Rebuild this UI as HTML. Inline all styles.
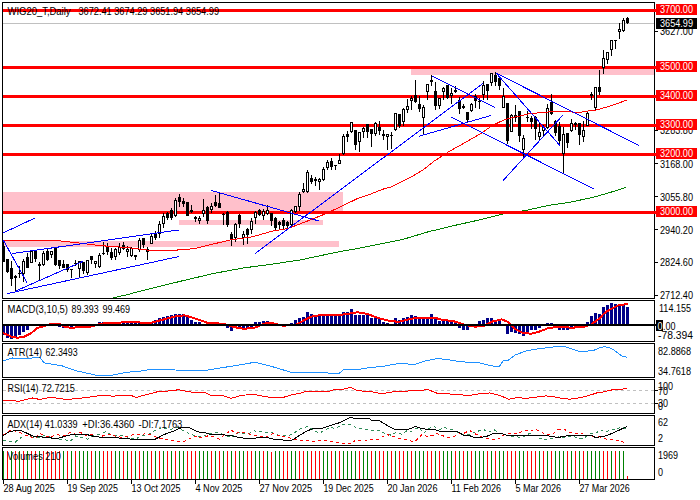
<!DOCTYPE html>
<html><head><meta charset="utf-8"><title>WIG20_T Daily</title>
<style>html,body{margin:0;padding:0;background:#fff;}body{width:700px;height:500px;overflow:hidden;font-family:"Liberation Sans",sans-serif;}</style>
</head><body>
<svg width="700" height="500" viewBox="0 0 700 500" style="display:block">
<rect x="0" y="0" width="700" height="500" fill="#fff"/>
<g shape-rendering="crispEdges" fill="#ffc0cb">
<rect x="3" y="192" width="340" height="20"/>
<rect x="3" y="241" width="336" height="6"/>
<rect x="179" y="220" width="144" height="5"/>
<rect x="411" y="68" width="243" height="7"/>
</g>
<rect x="3" y="23" width="652" height="1" fill="#c0c0c0" shape-rendering="crispEdges"/>
<polyline points="112.9,298.0 128.6,294.3 140.0,291.2 157.0,287.0 185.7,280.0 214.0,273.4 243.0,268.0 271.0,264.3 300.0,260.0 340.0,251.5 351.4,249.7 380.0,244.0 402.9,239.4 428.6,231.7 454.3,225.5 480.0,219.8 505.0,213.4 524.6,210.7 548.6,205.4 571.4,202.0 594.3,197.0 612.6,191.7 626.3,187.1" fill="none" stroke="#008000" stroke-width="1" shape-rendering="crispEdges"/>
<g shape-rendering="crispEdges" fill="#ff0000">
<rect x="3" y="9" width="654" height="3"/>
<rect x="3" y="66" width="654" height="3"/>
<rect x="3" y="95" width="654" height="3"/>
<rect x="3" y="124" width="654" height="3"/>
<rect x="3" y="153" width="654" height="3"/>
<rect x="3" y="211" width="654" height="3"/>
</g>
<g shape-rendering="crispEdges">
<rect x="3" y="241" width="1" height="21" fill="#000"/>
<rect x="2" y="246" width="3" height="16" fill="#000"/>
<rect x="7" y="259" width="1" height="14" fill="#000"/>
<rect x="6" y="259" width="3" height="13" fill="#000"/>
<rect x="11" y="261" width="1" height="25" fill="#000"/>
<rect x="10" y="268" width="3" height="11" fill="#000"/>
<rect x="15" y="275" width="1" height="16" fill="#000"/>
<rect x="14" y="276" width="3" height="2" fill="#000"/>
<rect x="19" y="266" width="1" height="12" fill="#000"/>
<rect x="18" y="273" width="3" height="1" fill="#000"/>
<rect x="23" y="259" width="1" height="23" fill="#000"/>
<rect x="22" y="261" width="3" height="13" fill="#000"/>
<rect x="23" y="262" width="1" height="11" fill="#fff"/>
<rect x="27" y="253" width="1" height="15" fill="#000"/>
<rect x="26" y="257" width="3" height="11" fill="#000"/>
<rect x="31" y="250" width="1" height="13" fill="#000"/>
<rect x="30" y="251" width="3" height="12" fill="#000"/>
<rect x="31" y="252" width="1" height="10" fill="#fff"/>
<rect x="35" y="250" width="1" height="12" fill="#000"/>
<rect x="34" y="250" width="3" height="9" fill="#000"/>
<rect x="39" y="262" width="1" height="19" fill="#000"/>
<rect x="38" y="264" width="3" height="2" fill="#000"/>
<rect x="43" y="251" width="1" height="15" fill="#000"/>
<rect x="42" y="253" width="3" height="12" fill="#000"/>
<rect x="43" y="254" width="1" height="10" fill="#fff"/>
<rect x="47" y="249" width="1" height="12" fill="#000"/>
<rect x="46" y="251" width="3" height="9" fill="#000"/>
<rect x="51" y="251" width="1" height="7" fill="#000"/>
<rect x="50" y="251" width="3" height="4" fill="#000"/>
<rect x="51" y="252" width="1" height="2" fill="#fff"/>
<rect x="55" y="248" width="1" height="18" fill="#000"/>
<rect x="54" y="248" width="3" height="17" fill="#000"/>
<rect x="59" y="260" width="1" height="9" fill="#000"/>
<rect x="58" y="260" width="3" height="6" fill="#000"/>
<rect x="63" y="260" width="1" height="8" fill="#000"/>
<rect x="62" y="264" width="3" height="4" fill="#000"/>
<rect x="67" y="264" width="1" height="8" fill="#000"/>
<rect x="66" y="264" width="3" height="6" fill="#000"/>
<rect x="71" y="269" width="1" height="9" fill="#000"/>
<rect x="70" y="269" width="3" height="1" fill="#000"/>
<rect x="75" y="260" width="1" height="6" fill="#000"/>
<rect x="74" y="263" width="3" height="1" fill="#000"/>
<rect x="79" y="261" width="1" height="17" fill="#000"/>
<rect x="78" y="261" width="3" height="8" fill="#000"/>
<rect x="79" y="262" width="1" height="6" fill="#fff"/>
<rect x="83" y="262" width="1" height="12" fill="#000"/>
<rect x="82" y="262" width="3" height="9" fill="#000"/>
<rect x="87" y="260" width="1" height="15" fill="#000"/>
<rect x="86" y="260" width="3" height="13" fill="#000"/>
<rect x="87" y="261" width="1" height="11" fill="#fff"/>
<rect x="91" y="256" width="1" height="8" fill="#000"/>
<rect x="90" y="256" width="3" height="4" fill="#000"/>
<rect x="95" y="261" width="1" height="7" fill="#000"/>
<rect x="94" y="261" width="3" height="3" fill="#000"/>
<rect x="95" y="262" width="1" height="1" fill="#fff"/>
<rect x="99" y="253" width="1" height="15" fill="#000"/>
<rect x="98" y="255" width="3" height="12" fill="#000"/>
<rect x="99" y="256" width="1" height="10" fill="#fff"/>
<rect x="103" y="242" width="1" height="13" fill="#000"/>
<rect x="102" y="253" width="3" height="1" fill="#000"/>
<rect x="107" y="243" width="1" height="12" fill="#000"/>
<rect x="106" y="246" width="3" height="6" fill="#000"/>
<rect x="111" y="248" width="1" height="12" fill="#000"/>
<rect x="110" y="252" width="3" height="6" fill="#000"/>
<rect x="115" y="248" width="1" height="12" fill="#000"/>
<rect x="114" y="249" width="3" height="8" fill="#000"/>
<rect x="115" y="250" width="1" height="6" fill="#fff"/>
<rect x="119" y="243" width="1" height="12" fill="#000"/>
<rect x="118" y="247" width="3" height="6" fill="#000"/>
<rect x="119" y="248" width="1" height="4" fill="#fff"/>
<rect x="123" y="242" width="1" height="8" fill="#000"/>
<rect x="122" y="245" width="3" height="4" fill="#000"/>
<rect x="127" y="246" width="1" height="11" fill="#000"/>
<rect x="126" y="249" width="3" height="3" fill="#000"/>
<rect x="127" y="250" width="1" height="1" fill="#fff"/>
<rect x="131" y="247" width="1" height="10" fill="#000"/>
<rect x="130" y="248" width="3" height="8" fill="#000"/>
<rect x="131" y="249" width="1" height="6" fill="#fff"/>
<rect x="135" y="255" width="1" height="5" fill="#000"/>
<rect x="134" y="255" width="3" height="2" fill="#000"/>
<rect x="139" y="238" width="1" height="14" fill="#000"/>
<rect x="138" y="240" width="3" height="10" fill="#000"/>
<rect x="139" y="241" width="1" height="8" fill="#fff"/>
<rect x="143" y="238" width="1" height="10" fill="#000"/>
<rect x="142" y="238" width="3" height="7" fill="#000"/>
<rect x="147" y="247" width="1" height="13" fill="#000"/>
<rect x="146" y="249" width="3" height="3" fill="#000"/>
<rect x="147" y="250" width="1" height="1" fill="#fff"/>
<rect x="151" y="234" width="1" height="10" fill="#000"/>
<rect x="150" y="236" width="3" height="8" fill="#000"/>
<rect x="151" y="237" width="1" height="6" fill="#fff"/>
<rect x="155" y="231" width="1" height="9" fill="#000"/>
<rect x="154" y="234" width="3" height="4" fill="#000"/>
<rect x="159" y="221" width="1" height="17" fill="#000"/>
<rect x="158" y="224" width="3" height="10" fill="#000"/>
<rect x="159" y="225" width="1" height="8" fill="#fff"/>
<rect x="163" y="213" width="1" height="15" fill="#000"/>
<rect x="162" y="216" width="3" height="8" fill="#000"/>
<rect x="163" y="217" width="1" height="6" fill="#fff"/>
<rect x="167" y="212" width="1" height="8" fill="#000"/>
<rect x="166" y="213" width="3" height="5" fill="#000"/>
<rect x="171" y="208" width="1" height="12" fill="#000"/>
<rect x="170" y="210" width="3" height="8" fill="#000"/>
<rect x="175" y="198" width="1" height="19" fill="#000"/>
<rect x="174" y="200" width="3" height="16" fill="#000"/>
<rect x="175" y="201" width="1" height="14" fill="#fff"/>
<rect x="179" y="194" width="1" height="13" fill="#000"/>
<rect x="178" y="197" width="3" height="5" fill="#000"/>
<rect x="183" y="198" width="1" height="9" fill="#000"/>
<rect x="182" y="201" width="3" height="3" fill="#000"/>
<rect x="187" y="202" width="1" height="14" fill="#000"/>
<rect x="186" y="202" width="3" height="14" fill="#000"/>
<rect x="191" y="205" width="1" height="8" fill="#000"/>
<rect x="190" y="210" width="3" height="2" fill="#000"/>
<rect x="195" y="216" width="1" height="6" fill="#000"/>
<rect x="194" y="217" width="3" height="2" fill="#000"/>
<rect x="199" y="216" width="1" height="8" fill="#000"/>
<rect x="198" y="218" width="3" height="3" fill="#000"/>
<rect x="199" y="219" width="1" height="1" fill="#fff"/>
<rect x="203" y="199" width="1" height="18" fill="#000"/>
<rect x="202" y="210" width="3" height="4" fill="#000"/>
<rect x="203" y="211" width="1" height="2" fill="#fff"/>
<rect x="207" y="206" width="1" height="18" fill="#000"/>
<rect x="206" y="207" width="3" height="14" fill="#000"/>
<rect x="211" y="203" width="1" height="10" fill="#000"/>
<rect x="210" y="206" width="3" height="4" fill="#000"/>
<rect x="211" y="207" width="1" height="2" fill="#fff"/>
<rect x="215" y="195" width="1" height="12" fill="#000"/>
<rect x="214" y="202" width="3" height="4" fill="#000"/>
<rect x="219" y="192" width="1" height="16" fill="#000"/>
<rect x="218" y="203" width="3" height="5" fill="#000"/>
<rect x="223" y="213" width="1" height="12" fill="#000"/>
<rect x="222" y="214" width="3" height="1" fill="#000"/>
<rect x="227" y="211" width="1" height="16" fill="#000"/>
<rect x="226" y="212" width="3" height="13" fill="#000"/>
<rect x="231" y="232" width="1" height="14" fill="#000"/>
<rect x="230" y="234" width="3" height="6" fill="#000"/>
<rect x="235" y="223" width="1" height="19" fill="#000"/>
<rect x="234" y="224" width="3" height="14" fill="#000"/>
<rect x="235" y="225" width="1" height="12" fill="#fff"/>
<rect x="239" y="214" width="1" height="14" fill="#000"/>
<rect x="238" y="215" width="3" height="9" fill="#000"/>
<rect x="243" y="231" width="1" height="14" fill="#000"/>
<rect x="242" y="234" width="3" height="4" fill="#000"/>
<rect x="243" y="235" width="1" height="2" fill="#fff"/>
<rect x="247" y="228" width="1" height="16" fill="#000"/>
<rect x="246" y="229" width="3" height="6" fill="#000"/>
<rect x="251" y="218" width="1" height="16" fill="#000"/>
<rect x="250" y="221" width="3" height="9" fill="#000"/>
<rect x="251" y="222" width="1" height="7" fill="#fff"/>
<rect x="255" y="211" width="1" height="13" fill="#000"/>
<rect x="254" y="212" width="3" height="6" fill="#000"/>
<rect x="255" y="213" width="1" height="4" fill="#fff"/>
<rect x="259" y="209" width="1" height="7" fill="#000"/>
<rect x="258" y="210" width="3" height="5" fill="#000"/>
<rect x="263" y="209" width="1" height="11" fill="#000"/>
<rect x="262" y="211" width="3" height="5" fill="#000"/>
<rect x="263" y="212" width="1" height="3" fill="#fff"/>
<rect x="267" y="205" width="1" height="10" fill="#000"/>
<rect x="266" y="210" width="3" height="4" fill="#000"/>
<rect x="267" y="211" width="1" height="2" fill="#fff"/>
<rect x="271" y="213" width="1" height="13" fill="#000"/>
<rect x="270" y="213" width="3" height="8" fill="#000"/>
<rect x="275" y="217" width="1" height="13" fill="#000"/>
<rect x="274" y="218" width="3" height="10" fill="#000"/>
<rect x="279" y="221" width="1" height="8" fill="#000"/>
<rect x="278" y="222" width="3" height="3" fill="#000"/>
<rect x="283" y="218" width="1" height="11" fill="#000"/>
<rect x="282" y="220" width="3" height="6" fill="#000"/>
<rect x="287" y="221" width="1" height="7" fill="#000"/>
<rect x="286" y="222" width="3" height="4" fill="#000"/>
<rect x="291" y="209" width="1" height="18" fill="#000"/>
<rect x="290" y="210" width="3" height="15" fill="#000"/>
<rect x="291" y="211" width="1" height="13" fill="#fff"/>
<rect x="295" y="206" width="1" height="7" fill="#000"/>
<rect x="294" y="206" width="3" height="6" fill="#000"/>
<rect x="295" y="207" width="1" height="4" fill="#fff"/>
<rect x="299" y="192" width="1" height="19" fill="#000"/>
<rect x="298" y="194" width="3" height="13" fill="#000"/>
<rect x="299" y="195" width="1" height="11" fill="#fff"/>
<rect x="303" y="183" width="1" height="10" fill="#000"/>
<rect x="302" y="189" width="3" height="3" fill="#000"/>
<rect x="303" y="190" width="1" height="1" fill="#fff"/>
<rect x="307" y="170" width="1" height="23" fill="#000"/>
<rect x="306" y="172" width="3" height="20" fill="#000"/>
<rect x="307" y="173" width="1" height="18" fill="#fff"/>
<rect x="311" y="175" width="1" height="9" fill="#000"/>
<rect x="310" y="178" width="3" height="4" fill="#000"/>
<rect x="315" y="177" width="1" height="9" fill="#000"/>
<rect x="314" y="179" width="3" height="2" fill="#000"/>
<rect x="319" y="178" width="1" height="12" fill="#000"/>
<rect x="318" y="179" width="3" height="3" fill="#000"/>
<rect x="319" y="180" width="1" height="1" fill="#fff"/>
<rect x="323" y="167" width="1" height="14" fill="#000"/>
<rect x="322" y="169" width="3" height="11" fill="#000"/>
<rect x="323" y="170" width="1" height="9" fill="#fff"/>
<rect x="327" y="160" width="1" height="10" fill="#000"/>
<rect x="326" y="162" width="3" height="6" fill="#000"/>
<rect x="327" y="163" width="1" height="4" fill="#fff"/>
<rect x="331" y="158" width="1" height="12" fill="#000"/>
<rect x="330" y="161" width="3" height="6" fill="#000"/>
<rect x="335" y="165" width="1" height="5" fill="#000"/>
<rect x="334" y="165" width="3" height="1" fill="#000"/>
<rect x="339" y="154" width="1" height="10" fill="#000"/>
<rect x="338" y="160" width="3" height="4" fill="#000"/>
<rect x="339" y="161" width="1" height="2" fill="#fff"/>
<rect x="343" y="134" width="1" height="21" fill="#000"/>
<rect x="342" y="136" width="3" height="18" fill="#000"/>
<rect x="343" y="137" width="1" height="16" fill="#fff"/>
<rect x="347" y="131" width="1" height="11" fill="#000"/>
<rect x="346" y="134" width="3" height="3" fill="#000"/>
<rect x="351" y="122" width="1" height="11" fill="#000"/>
<rect x="350" y="122" width="3" height="10" fill="#000"/>
<rect x="351" y="123" width="1" height="8" fill="#fff"/>
<rect x="355" y="130" width="1" height="20" fill="#000"/>
<rect x="354" y="130" width="3" height="15" fill="#000"/>
<rect x="359" y="132" width="1" height="20" fill="#000"/>
<rect x="358" y="132" width="3" height="10" fill="#000"/>
<rect x="359" y="133" width="1" height="8" fill="#fff"/>
<rect x="363" y="127" width="1" height="11" fill="#000"/>
<rect x="362" y="128" width="3" height="4" fill="#000"/>
<rect x="363" y="129" width="1" height="2" fill="#fff"/>
<rect x="367" y="124" width="1" height="14" fill="#000"/>
<rect x="366" y="124" width="3" height="8" fill="#000"/>
<rect x="371" y="129" width="1" height="18" fill="#000"/>
<rect x="370" y="129" width="3" height="5" fill="#000"/>
<rect x="375" y="122" width="1" height="14" fill="#000"/>
<rect x="374" y="123" width="3" height="11" fill="#000"/>
<rect x="375" y="124" width="1" height="9" fill="#fff"/>
<rect x="379" y="121" width="1" height="14" fill="#000"/>
<rect x="378" y="127" width="3" height="4" fill="#000"/>
<rect x="383" y="130" width="1" height="10" fill="#000"/>
<rect x="382" y="134" width="3" height="2" fill="#000"/>
<rect x="387" y="134" width="1" height="16" fill="#000"/>
<rect x="386" y="134" width="3" height="3" fill="#000"/>
<rect x="387" y="135" width="1" height="1" fill="#fff"/>
<rect x="391" y="132" width="1" height="17" fill="#000"/>
<rect x="390" y="135" width="3" height="1" fill="#000"/>
<rect x="395" y="113" width="1" height="18" fill="#000"/>
<rect x="394" y="113" width="3" height="17" fill="#000"/>
<rect x="395" y="114" width="1" height="15" fill="#fff"/>
<rect x="399" y="114" width="1" height="14" fill="#000"/>
<rect x="398" y="114" width="3" height="12" fill="#000"/>
<rect x="403" y="108" width="1" height="18" fill="#000"/>
<rect x="402" y="109" width="3" height="13" fill="#000"/>
<rect x="403" y="110" width="1" height="11" fill="#fff"/>
<rect x="407" y="99" width="1" height="14" fill="#000"/>
<rect x="406" y="106" width="3" height="4" fill="#000"/>
<rect x="407" y="107" width="1" height="2" fill="#fff"/>
<rect x="411" y="96" width="1" height="14" fill="#000"/>
<rect x="410" y="98" width="3" height="3" fill="#000"/>
<rect x="411" y="99" width="1" height="1" fill="#fff"/>
<rect x="415" y="80" width="1" height="23" fill="#000"/>
<rect x="414" y="95" width="3" height="7" fill="#000"/>
<rect x="419" y="96" width="1" height="16" fill="#000"/>
<rect x="418" y="104" width="3" height="5" fill="#000"/>
<rect x="423" y="105" width="1" height="30" fill="#000"/>
<rect x="422" y="107" width="3" height="11" fill="#000"/>
<rect x="423" y="108" width="1" height="9" fill="#fff"/>
<rect x="427" y="84" width="1" height="16" fill="#000"/>
<rect x="426" y="84" width="3" height="8" fill="#000"/>
<rect x="427" y="85" width="1" height="6" fill="#fff"/>
<rect x="431" y="75" width="1" height="11" fill="#000"/>
<rect x="430" y="80" width="3" height="2" fill="#000"/>
<rect x="435" y="82" width="1" height="28" fill="#000"/>
<rect x="434" y="91" width="3" height="15" fill="#000"/>
<rect x="439" y="98" width="1" height="11" fill="#000"/>
<rect x="438" y="98" width="3" height="8" fill="#000"/>
<rect x="439" y="99" width="1" height="6" fill="#fff"/>
<rect x="443" y="87" width="1" height="13" fill="#000"/>
<rect x="442" y="88" width="3" height="4" fill="#000"/>
<rect x="443" y="89" width="1" height="2" fill="#fff"/>
<rect x="447" y="85" width="1" height="14" fill="#000"/>
<rect x="446" y="85" width="3" height="13" fill="#000"/>
<rect x="451" y="88" width="1" height="16" fill="#000"/>
<rect x="450" y="93" width="3" height="3" fill="#000"/>
<rect x="451" y="94" width="1" height="1" fill="#fff"/>
<rect x="455" y="86" width="1" height="7" fill="#000"/>
<rect x="454" y="90" width="3" height="2" fill="#000"/>
<rect x="459" y="97" width="1" height="17" fill="#000"/>
<rect x="458" y="100" width="3" height="9" fill="#000"/>
<rect x="463" y="104" width="1" height="5" fill="#000"/>
<rect x="462" y="106" width="3" height="2" fill="#000"/>
<rect x="467" y="112" width="1" height="11" fill="#000"/>
<rect x="466" y="112" width="3" height="8" fill="#000"/>
<rect x="471" y="103" width="1" height="9" fill="#000"/>
<rect x="470" y="104" width="3" height="7" fill="#000"/>
<rect x="471" y="105" width="1" height="5" fill="#fff"/>
<rect x="475" y="94" width="1" height="14" fill="#000"/>
<rect x="474" y="96" width="3" height="5" fill="#000"/>
<rect x="479" y="98" width="1" height="11" fill="#000"/>
<rect x="478" y="101" width="3" height="1" fill="#000"/>
<rect x="483" y="81" width="1" height="19" fill="#000"/>
<rect x="482" y="85" width="3" height="10" fill="#000"/>
<rect x="483" y="86" width="1" height="8" fill="#fff"/>
<rect x="487" y="84" width="1" height="16" fill="#000"/>
<rect x="486" y="84" width="3" height="7" fill="#000"/>
<rect x="491" y="73" width="1" height="13" fill="#000"/>
<rect x="490" y="73" width="3" height="10" fill="#000"/>
<rect x="491" y="74" width="1" height="8" fill="#fff"/>
<rect x="495" y="72" width="1" height="14" fill="#000"/>
<rect x="494" y="75" width="3" height="7" fill="#000"/>
<rect x="499" y="77" width="1" height="13" fill="#000"/>
<rect x="498" y="78" width="3" height="8" fill="#000"/>
<rect x="503" y="88" width="1" height="20" fill="#000"/>
<rect x="502" y="96" width="3" height="12" fill="#000"/>
<rect x="503" y="97" width="1" height="10" fill="#fff"/>
<rect x="507" y="103" width="1" height="41" fill="#000"/>
<rect x="506" y="103" width="3" height="38" fill="#000"/>
<rect x="511" y="114" width="1" height="18" fill="#000"/>
<rect x="510" y="115" width="3" height="17" fill="#000"/>
<rect x="511" y="116" width="1" height="15" fill="#fff"/>
<rect x="515" y="105" width="1" height="17" fill="#000"/>
<rect x="514" y="115" width="3" height="3" fill="#000"/>
<rect x="519" y="111" width="1" height="31" fill="#000"/>
<rect x="518" y="111" width="3" height="25" fill="#000"/>
<rect x="523" y="135" width="1" height="24" fill="#000"/>
<rect x="522" y="138" width="3" height="12" fill="#000"/>
<rect x="523" y="139" width="1" height="10" fill="#fff"/>
<rect x="527" y="111" width="1" height="11" fill="#000"/>
<rect x="526" y="117" width="3" height="1" fill="#000"/>
<rect x="531" y="116" width="1" height="13" fill="#000"/>
<rect x="530" y="118" width="3" height="4" fill="#000"/>
<rect x="535" y="116" width="1" height="24" fill="#000"/>
<rect x="534" y="117" width="3" height="12" fill="#000"/>
<rect x="539" y="123" width="1" height="18" fill="#000"/>
<rect x="538" y="132" width="3" height="5" fill="#000"/>
<rect x="539" y="133" width="1" height="3" fill="#fff"/>
<rect x="543" y="125" width="1" height="12" fill="#000"/>
<rect x="542" y="127" width="3" height="4" fill="#000"/>
<rect x="543" y="128" width="1" height="2" fill="#fff"/>
<rect x="547" y="104" width="1" height="25" fill="#000"/>
<rect x="546" y="108" width="3" height="20" fill="#000"/>
<rect x="547" y="109" width="1" height="18" fill="#fff"/>
<rect x="551" y="94" width="1" height="21" fill="#000"/>
<rect x="550" y="102" width="3" height="12" fill="#000"/>
<rect x="555" y="120" width="1" height="16" fill="#000"/>
<rect x="554" y="121" width="3" height="12" fill="#000"/>
<rect x="559" y="122" width="1" height="23" fill="#000"/>
<rect x="558" y="126" width="3" height="15" fill="#000"/>
<rect x="563" y="127" width="1" height="47" fill="#000"/>
<rect x="562" y="134" width="3" height="20" fill="#000"/>
<rect x="563" y="135" width="1" height="18" fill="#fff"/>
<rect x="567" y="133" width="1" height="15" fill="#000"/>
<rect x="566" y="133" width="3" height="10" fill="#000"/>
<rect x="571" y="119" width="1" height="13" fill="#000"/>
<rect x="570" y="123" width="3" height="8" fill="#000"/>
<rect x="571" y="124" width="1" height="6" fill="#fff"/>
<rect x="575" y="122" width="1" height="8" fill="#000"/>
<rect x="574" y="123" width="3" height="2" fill="#000"/>
<rect x="579" y="123" width="1" height="22" fill="#000"/>
<rect x="578" y="123" width="3" height="12" fill="#000"/>
<rect x="583" y="121" width="1" height="21" fill="#000"/>
<rect x="582" y="130" width="3" height="7" fill="#000"/>
<rect x="583" y="131" width="1" height="5" fill="#fff"/>
<rect x="587" y="111" width="1" height="15" fill="#000"/>
<rect x="586" y="113" width="3" height="13" fill="#000"/>
<rect x="587" y="114" width="1" height="11" fill="#fff"/>
<rect x="591" y="92" width="1" height="8" fill="#000"/>
<rect x="590" y="94" width="3" height="2" fill="#000"/>
<rect x="595" y="87" width="1" height="23" fill="#000"/>
<rect x="594" y="87" width="3" height="21" fill="#000"/>
<rect x="595" y="88" width="1" height="19" fill="#fff"/>
<rect x="599" y="70" width="1" height="25" fill="#000"/>
<rect x="598" y="87" width="3" height="5" fill="#000"/>
<rect x="603" y="50" width="1" height="24" fill="#000"/>
<rect x="602" y="58" width="3" height="10" fill="#000"/>
<rect x="603" y="59" width="1" height="8" fill="#fff"/>
<rect x="607" y="52" width="1" height="12" fill="#000"/>
<rect x="606" y="52" width="3" height="8" fill="#000"/>
<rect x="607" y="53" width="1" height="6" fill="#fff"/>
<rect x="611" y="40" width="1" height="16" fill="#000"/>
<rect x="610" y="40" width="3" height="10" fill="#000"/>
<rect x="611" y="41" width="1" height="8" fill="#fff"/>
<rect x="615" y="40" width="1" height="9" fill="#000"/>
<rect x="614" y="40" width="3" height="1" fill="#000"/>
<rect x="619" y="23" width="1" height="16" fill="#000"/>
<rect x="618" y="29" width="3" height="3" fill="#000"/>
<rect x="619" y="30" width="1" height="1" fill="#fff"/>
<rect x="623" y="18" width="1" height="14" fill="#000"/>
<rect x="622" y="20" width="3" height="11" fill="#000"/>
<rect x="623" y="21" width="1" height="9" fill="#fff"/>
<rect x="627" y="17" width="1" height="7" fill="#000"/>
<rect x="626" y="18" width="3" height="5" fill="#000"/>
</g>
<polyline points="3.0,240.5 20.0,240.5 57.0,240.6 75.0,242.5 100.0,245.6 128.6,247.7 150.0,250.4 157.0,250.9 175.0,250.2 185.7,249.4 195.0,248.6 210.0,244.8 230.0,240.0 252.4,236.8 273.2,230.9 285.0,229.0 290.0,227.7 305.0,222.0 325.0,214.0 340.0,207.0 357.0,198.8 370.0,194.3 385.0,188.4 391.4,186.8 412.9,176.0 423.6,169.6 434.3,161.0 449.3,151.4 466.4,141.8 481.4,133.2 492.0,125.7 502.9,120.4 510.0,118.2 520.0,116.0 530.0,113.6 554.0,111.5 570.0,111.5 577.0,112.9 586.0,111.3 596.0,110.0 607.0,107.0 618.0,103.3 626.8,100.0" fill="none" stroke="#ff0000" stroke-width="1" shape-rendering="crispEdges"/>
<g stroke="#0000ff" stroke-width="1" shape-rendering="crispEdges">
<line x1="3" y1="233" x2="35" y2="218"/>
<line x1="12" y1="253.6" x2="178.6" y2="230"/>
<line x1="7.2" y1="293.6" x2="178.6" y2="256.6"/>
<line x1="15.2" y1="291.2" x2="83.2" y2="261.3"/>
<line x1="3.2" y1="240" x2="26.9" y2="282.4"/>
<line x1="211" y1="190.4" x2="319" y2="221"/>
<line x1="255" y1="253.6" x2="483.2" y2="83.2"/>
<line x1="431.5" y1="75.7" x2="494.7" y2="107.2"/>
<line x1="419.2" y1="136.2" x2="490.9" y2="115.5"/>
<line x1="451.2" y1="117.1" x2="594" y2="189"/>
<line x1="496" y1="73" x2="639" y2="145.5"/>
<line x1="496" y1="73" x2="560" y2="145.6"/>
<line x1="503.1" y1="180.5" x2="562.8" y2="115.2"/>
</g>
<g shape-rendering="crispEdges" fill="#000088">
<rect x="2" y="324" width="3" height="11"/>
<rect x="6" y="324" width="3" height="14"/>
<rect x="10" y="324" width="3" height="15"/>
<rect x="14" y="324" width="3" height="14"/>
<rect x="18" y="324" width="3" height="11"/>
<rect x="22" y="324" width="3" height="8"/>
<rect x="26" y="324" width="3" height="6"/>
<rect x="30" y="324" width="3" height="2"/>
<rect x="50" y="323" width="3" height="1"/>
<rect x="54" y="323" width="3" height="1"/>
<rect x="58" y="324" width="3" height="3"/>
<rect x="62" y="324" width="3" height="4"/>
<rect x="66" y="324" width="3" height="4"/>
<rect x="70" y="324" width="3" height="4"/>
<rect x="74" y="324" width="3" height="2"/>
<rect x="78" y="324" width="3" height="2"/>
<rect x="82" y="324" width="3" height="2"/>
<rect x="86" y="324" width="3" height="2"/>
<rect x="98" y="322" width="3" height="2"/>
<rect x="102" y="322" width="3" height="3"/>
<rect x="106" y="322" width="3" height="3"/>
<rect x="110" y="322" width="3" height="3"/>
<rect x="114" y="322" width="3" height="2"/>
<rect x="118" y="322" width="3" height="2"/>
<rect x="122" y="323" width="3" height="2"/>
<rect x="126" y="322" width="3" height="2"/>
<rect x="130" y="322" width="3" height="2"/>
<rect x="134" y="322" width="3" height="2"/>
<rect x="138" y="323" width="3" height="2"/>
<rect x="142" y="322" width="3" height="2"/>
<rect x="146" y="322" width="3" height="2"/>
<rect x="150" y="322" width="3" height="3"/>
<rect x="154" y="320" width="3" height="4"/>
<rect x="158" y="318" width="3" height="6"/>
<rect x="162" y="317" width="3" height="8"/>
<rect x="166" y="316" width="3" height="8"/>
<rect x="170" y="315" width="3" height="10"/>
<rect x="174" y="314" width="3" height="10"/>
<rect x="178" y="314" width="3" height="10"/>
<rect x="182" y="314" width="3" height="10"/>
<rect x="186" y="317" width="3" height="8"/>
<rect x="190" y="320" width="3" height="4"/>
<rect x="194" y="322" width="3" height="3"/>
<rect x="198" y="322" width="3" height="2"/>
<rect x="218" y="323" width="3" height="2"/>
<rect x="226" y="324" width="3" height="4"/>
<rect x="230" y="324" width="3" height="7"/>
<rect x="234" y="324" width="3" height="4"/>
<rect x="238" y="324" width="3" height="4"/>
<rect x="242" y="324" width="3" height="4"/>
<rect x="246" y="324" width="3" height="4"/>
<rect x="250" y="324" width="3" height="3"/>
<rect x="254" y="322" width="3" height="2"/>
<rect x="258" y="322" width="3" height="3"/>
<rect x="262" y="321" width="3" height="4"/>
<rect x="266" y="321" width="3" height="4"/>
<rect x="270" y="322" width="3" height="2"/>
<rect x="278" y="324" width="3" height="2"/>
<rect x="282" y="324" width="3" height="3"/>
<rect x="286" y="324" width="3" height="2"/>
<rect x="290" y="323" width="3" height="2"/>
<rect x="294" y="320" width="3" height="4"/>
<rect x="298" y="318" width="3" height="7"/>
<rect x="302" y="317" width="3" height="8"/>
<rect x="306" y="312" width="3" height="13"/>
<rect x="310" y="314" width="3" height="10"/>
<rect x="314" y="316" width="3" height="8"/>
<rect x="318" y="316" width="3" height="8"/>
<rect x="322" y="316" width="3" height="8"/>
<rect x="326" y="316" width="3" height="8"/>
<rect x="330" y="316" width="3" height="8"/>
<rect x="334" y="316" width="3" height="8"/>
<rect x="338" y="316" width="3" height="8"/>
<rect x="342" y="312" width="3" height="13"/>
<rect x="346" y="312" width="3" height="12"/>
<rect x="350" y="309" width="3" height="16"/>
<rect x="354" y="315" width="3" height="10"/>
<rect x="358" y="315" width="3" height="10"/>
<rect x="362" y="315" width="3" height="10"/>
<rect x="366" y="315" width="3" height="10"/>
<rect x="370" y="318" width="3" height="7"/>
<rect x="374" y="318" width="3" height="6"/>
<rect x="378" y="319" width="3" height="5"/>
<rect x="382" y="322" width="3" height="3"/>
<rect x="386" y="323" width="3" height="2"/>
<rect x="394" y="318" width="3" height="6"/>
<rect x="398" y="320" width="3" height="4"/>
<rect x="402" y="318" width="3" height="6"/>
<rect x="406" y="317" width="3" height="8"/>
<rect x="410" y="315" width="3" height="10"/>
<rect x="414" y="316" width="3" height="8"/>
<rect x="418" y="318" width="3" height="6"/>
<rect x="422" y="319" width="3" height="5"/>
<rect x="426" y="318" width="3" height="7"/>
<rect x="430" y="314" width="3" height="10"/>
<rect x="434" y="319" width="3" height="5"/>
<rect x="438" y="321" width="3" height="4"/>
<rect x="442" y="319" width="3" height="5"/>
<rect x="446" y="320" width="3" height="4"/>
<rect x="450" y="321" width="3" height="4"/>
<rect x="454" y="322" width="3" height="2"/>
<rect x="458" y="324" width="3" height="4"/>
<rect x="462" y="324" width="3" height="6"/>
<rect x="466" y="324" width="3" height="6"/>
<rect x="470" y="324" width="3" height="2"/>
<rect x="478" y="321" width="3" height="3"/>
<rect x="482" y="320" width="3" height="4"/>
<rect x="486" y="318" width="3" height="7"/>
<rect x="490" y="318" width="3" height="6"/>
<rect x="494" y="320" width="3" height="5"/>
<rect x="498" y="320" width="3" height="4"/>
<rect x="506" y="324" width="3" height="10"/>
<rect x="510" y="324" width="3" height="8"/>
<rect x="514" y="324" width="3" height="9"/>
<rect x="518" y="324" width="3" height="10"/>
<rect x="522" y="324" width="3" height="12"/>
<rect x="526" y="324" width="3" height="8"/>
<rect x="530" y="324" width="3" height="6"/>
<rect x="534" y="324" width="3" height="6"/>
<rect x="538" y="324" width="3" height="4"/>
<rect x="542" y="324" width="3" height="2"/>
<rect x="546" y="323" width="3" height="1"/>
<rect x="550" y="323" width="3" height="1"/>
<rect x="554" y="324" width="3" height="1"/>
<rect x="558" y="324" width="3" height="6"/>
<rect x="562" y="324" width="3" height="6"/>
<rect x="566" y="324" width="3" height="6"/>
<rect x="570" y="324" width="3" height="3"/>
<rect x="574" y="324" width="3" height="2"/>
<rect x="578" y="324" width="3" height="2"/>
<rect x="582" y="324" width="3" height="2"/>
<rect x="586" y="322" width="3" height="2"/>
<rect x="590" y="316" width="3" height="9"/>
<rect x="594" y="313" width="3" height="12"/>
<rect x="598" y="314" width="3" height="11"/>
<rect x="602" y="307" width="3" height="18"/>
<rect x="606" y="305" width="3" height="20"/>
<rect x="610" y="303" width="3" height="21"/>
<rect x="614" y="304" width="3" height="20"/>
<rect x="618" y="304" width="3" height="20"/>
<rect x="622" y="304" width="3" height="20"/>
<rect x="626" y="307" width="3" height="18"/>
</g>
<polyline points="3.0,333.0 11.0,336.5 17.3,337.7 23.6,337.0 31.4,333.0 37.0,328.0 43.0,326.6 50.0,324.2 55.0,323.6 60.0,324.2 64.0,326.4 70.0,327.7 80.0,327.3 90.0,326.7 96.0,325.2 102.0,323.6 110.0,322.8 125.7,322.4 151.4,322.6 164.3,319.3 177.0,316.0 184.8,315.4 195.0,318.5 208.0,323.0 223.4,323.7 233.7,327.0 244.0,328.8 254.2,327.8 264.5,323.7 269.7,322.6 280.0,325.0 283.0,325.7 295.7,325.0 303.4,320.6 311.0,316.7 321.4,315.0 336.8,315.4 347.0,314.0 357.4,312.3 367.7,314.0 378.0,318.0 388.3,320.6 398.6,321.9 408.9,319.3 419.0,317.5 434.6,317.5 440.0,319.4 454.3,321.4 465.7,325.0 474.3,326.6 482.9,326.3 492.9,321.4 501.4,319.4 507.0,321.4 514.3,328.6 522.9,332.9 531.4,333.7 540.0,331.4 548.6,328.0 560.0,326.6 571.4,327.7 582.9,327.0 591.4,324.3 600.0,318.0 603.6,313.8 607.8,310.8 612.0,308.4 615.6,306.6 619.2,304.9 624.0,304.5 625.2,303.9 628.0,303.9" fill="none" stroke="#ff0000" stroke-width="2" stroke-linejoin="round" shape-rendering="crispEdges"/>
<rect x="3" y="324" width="654" height="2" fill="#000" shape-rendering="crispEdges"/>
<polyline points="3.0,361.0 12.5,358.0 25.0,358.5 40.0,357.5 44.0,362.8 62.5,366.0 75.0,370.5 95.0,375.0 110.0,375.6 125.0,372.5 141.5,371.0 150.0,369.5 175.0,370.0 188.6,370.3 202.7,371.0 220.0,368.0 235.7,365.6 254.6,362.3 268.7,365.6 292.3,372.6 320.0,372.6 339.0,373.6 343.6,369.4 355.0,370.0 367.0,368.0 385.0,366.0 400.0,363.2 414.3,364.6 425.0,361.0 437.9,358.5 450.0,360.0 461.4,361.8 480.3,363.0 490.0,365.6 499.0,367.0 503.0,361.0 508.6,360.0 515.0,355.0 527.4,350.5 540.0,348.6 555.7,346.7 565.0,346.7 572.0,349.0 579.3,351.4 586.0,351.2 593.4,350.5 600.0,347.6 605.0,346.7 610.0,348.0 614.6,350.5 618.0,353.0 621.7,356.0 624.0,356.0 627.4,357.6" fill="none" stroke="#1e90ff" stroke-width="1" shape-rendering="crispEdges"/>
<g stroke="#c0c0c0" stroke-width="1" stroke-dasharray="3,3" shape-rendering="crispEdges">
<line x1="3" y1="390.5" x2="655" y2="390.5"/><line x1="3" y1="403.5" x2="655" y2="403.5"/>
</g>
<polyline points="3.0,400.0 10.0,400.6 18.8,401.2 26.0,399.5 32.5,398.0 40.0,399.5 46.0,398.2 51.0,397.0 59.0,398.5 67.5,399.5 75.0,398.6 82.5,398.0 94.0,396.4 105.0,395.0 112.5,396.2 121.0,395.6 130.0,395.0 136.0,397.5 143.0,395.5 150.0,393.7 155.6,392.2 160.0,391.3 165.0,391.5 172.0,390.4 179.0,389.8 188.0,391.5 198.0,393.0 205.0,392.4 212.0,396.0 222.0,395.4 231.0,398.3 242.0,395.2 254.6,394.5 262.0,396.0 273.4,397.8 283.0,397.5 292.3,394.5 300.0,393.5 306.4,391.2 315.0,392.0 320.0,391.2 328.0,391.8 334.0,389.8 342.0,389.5 350.6,387.4 357.7,390.7 370.0,391.5 378.0,393.0 386.0,393.0 395.0,391.5 404.9,391.2 415.0,390.5 428.4,389.8 437.9,393.6 445.0,393.0 452.0,394.5 460.0,394.0 466.0,396.0 475.0,394.5 482.0,393.5 489.7,393.0 500.0,395.5 508.6,399.2 518.0,397.5 525.0,398.3 532.0,397.8 540.0,396.5 546.3,395.9 555.0,397.0 562.0,398.5 570.0,399.2 578.0,398.0 584.0,396.9 592.0,394.5 598.0,392.5 602.9,392.0 610.0,390.2 617.0,389.3 627.4,388.8" fill="none" stroke="#ff0000" stroke-width="1" shape-rendering="crispEdges"/>
<polyline points="3.4,440.3 10.3,441.5 15.4,442.0 18.0,439.4 22.3,436.9 27.4,435.2 34.3,437.7 39.5,438.0 45.5,434.6 51.5,437.7 58.3,439.1 64.3,439.4 70.3,441.2 75.5,436.0 81.5,437.7 87.5,439.1 93.5,436.0 99.5,434.3 105.5,431.7 111.5,435.2 115.0,435.2 123.6,435.7 130.4,438.6 135.6,439.1 140.7,436.0 147.6,435.2 151.9,432.2 157.9,429.2 164.7,428.3 171.6,429.2 178.5,427.4 183.6,430.9 188.8,433.4 195.6,436.0 200.8,436.9 207.6,434.3 212.8,433.4 217.9,432.6 224.8,435.2 231.6,437.4 235.0,434.3 240.3,431.7 243.7,434.0 248.9,433.4 254.0,430.9 260.9,431.7 266.0,432.2 272.9,432.9 278.9,435.2 288.3,435.7 293.5,433.4 300.3,428.8 307.2,426.6 312.3,429.2 319.2,433.4 326.0,429.2 331.2,427.8 336.3,428.3 341.5,424.9 351.9,424.3 355.3,427.4 363.9,428.8 370.7,430.0 379.3,430.5 386.2,434.0 391.3,435.2 396.5,432.2 401.6,434.3 406.7,430.9 411.9,431.2 415.3,428.3 420.5,429.2 423.9,433.4 429.0,428.3 434.2,426.6 439.3,430.0 444.5,427.4 449.6,429.2 454.8,430.5 460.0,434.0 465.3,435.2 470.4,434.3 475.6,431.7 480.7,430.5 483.3,429.2 487.6,432.2 494.5,430.0 499.6,432.9 504.7,434.6 509.9,436.4 515.0,436.0 520.2,437.7 525.3,436.0 529.6,433.4 535.6,435.7 540.0,438.6 547.0,439.5 559.0,436.9 565.7,437.7 571.0,436.0 577.7,437.7 583.0,439.0 589.7,434.0 595.0,433.4 601.0,430.0 606.0,432.2 612.0,429.0 615.5,430.0 619.8,427.4 626.6,428.3" fill="none" stroke="#2e8b57" stroke-width="1" stroke-dasharray="3,3" shape-rendering="crispEdges"/>
<polyline points="3.4,435.2 6.9,432.2 10.3,430.0 14.0,430.5 22.3,433.4 25.7,435.2 32.6,437.4 36.0,437.7 39.5,433.4 44.6,435.7 51.5,436.9 56.6,434.3 61.7,436.0 65.2,435.2 69.5,432.6 75.5,434.3 79.8,432.2 85.8,435.2 92.6,434.3 97.8,436.9 111.5,434.3 115.0,436.0 121.9,437.4 128.7,436.0 134.7,434.0 140.7,434.6 146.7,433.4 151.9,435.2 157.9,437.7 164.7,439.4 171.6,440.8 178.5,441.5 183.6,442.0 188.8,439.1 194.8,436.0 200.8,437.7 207.6,436.0 213.6,436.9 219.6,439.1 224.8,434.3 231.6,430.0 235.0,433.4 242.0,432.2 247.0,433.4 254.0,435.2 260.9,436.9 267.7,436.0 272.9,433.4 279.7,436.0 286.6,436.9 291.8,438.6 302.0,440.8 315.8,441.2 324.3,440.3 332.9,442.0 345.0,443.7 351.9,443.2 355.3,440.3 363.9,441.2 370.7,439.4 379.3,439.1 386.2,434.3 393.0,436.4 399.9,438.6 406.7,439.4 411.9,441.5 416.2,440.3 422.2,434.3 427.3,436.4 432.5,435.7 435.9,433.4 441.0,435.2 447.9,437.4 454.8,436.0 459.9,433.4 463.6,433.4 469.6,430.5 475.6,434.0 481.6,436.9 487.6,438.6 493.6,439.8 499.6,438.6 504.7,434.0 511.6,433.4 517.6,434.0 523.6,430.5 529.6,431.2 535.6,429.2 540.0,431.7 546.9,434.6 552.9,434.0 557.0,430.0 564.0,429.2 570.9,432.9 576.9,433.4 582.9,434.0 586.3,435.7 594.9,436.4 600.0,436.9 606.0,439.1 612.0,439.4 618.0,440.8 624.9,442.5" fill="none" stroke="#ff0000" stroke-width="1" stroke-dasharray="3,3" shape-rendering="crispEdges"/>
<polyline points="2.6,436.0 8.6,432.2 15.4,430.4 20.6,430.4 25.7,432.6 32.6,436.0 37.7,436.5 51.5,438.0 59.2,438.0 68.6,435.2 75.5,434.3 80.6,434.8 85.8,434.3 96.0,436.9 109.8,437.4 115.0,437.7 125.3,438.6 133.9,439.4 155.3,439.1 164.7,434.3 175.0,430.5 181.0,427.8 188.8,427.4 195.6,430.9 200.8,432.6 205.9,432.9 211.0,434.6 217.9,434.0 226.5,435.2 230.0,435.2 238.6,437.4 247.0,438.6 260.9,437.7 266.0,437.4 274.6,439.4 286.6,440.3 291.8,440.3 298.6,436.0 305.5,431.7 312.3,428.8 322.6,428.3 329.5,425.7 339.8,422.6 345.0,420.2 351.0,417.1 353.6,418.5 369.0,418.5 371.6,420.2 379.3,420.6 386.2,424.9 394.7,429.2 408.5,429.2 415.3,426.6 422.2,428.8 435.9,430.0 439.3,431.2 456.5,431.2 458.4,432.2 463.6,435.2 470.4,436.0 474.7,437.7 480.7,437.4 487.6,436.0 493.6,433.4 501.3,433.4 506.5,435.2 513.3,436.0 523.6,435.2 530.5,436.0 537.3,435.7 540.0,435.2 553.7,436.4 557.0,437.7 565.7,436.0 583.0,435.2 593.0,436.0 595.0,437.4 603.5,436.5 608.6,434.8 617.0,431.2 626.6,426.6" fill="none" stroke="#000" stroke-width="1" shape-rendering="crispEdges"/>
<g shape-rendering="crispEdges">
<rect x="3" y="451" width="1" height="28" fill="#008000"/>
<rect x="7" y="451" width="1" height="28" fill="#ff0000"/>
<rect x="11" y="451" width="1" height="28" fill="#008000"/>
<rect x="15" y="451" width="1" height="28" fill="#ff0000"/>
<rect x="19" y="451" width="1" height="28" fill="#008000"/>
<rect x="23" y="451" width="1" height="28" fill="#ff0000"/>
<rect x="27" y="451" width="1" height="28" fill="#008000"/>
<rect x="31" y="451" width="1" height="28" fill="#ff0000"/>
<rect x="35" y="451" width="1" height="28" fill="#ff0000"/>
<rect x="39" y="451" width="1" height="28" fill="#008000"/>
<rect x="43" y="451" width="1" height="28" fill="#ff0000"/>
<rect x="47" y="451" width="1" height="28" fill="#ff0000"/>
<rect x="51" y="451" width="1" height="28" fill="#ff0000"/>
<rect x="55" y="451" width="1" height="28" fill="#ff0000"/>
<rect x="59" y="451" width="1" height="28" fill="#ff0000"/>
<rect x="63" y="451" width="1" height="28" fill="#008000"/>
<rect x="67" y="451" width="1" height="28" fill="#ff0000"/>
<rect x="71" y="451" width="1" height="28" fill="#008000"/>
<rect x="75" y="451" width="1" height="28" fill="#ff0000"/>
<rect x="79" y="451" width="1" height="28" fill="#008000"/>
<rect x="83" y="451" width="1" height="28" fill="#008000"/>
<rect x="87" y="451" width="1" height="28" fill="#008000"/>
<rect x="91" y="451" width="1" height="28" fill="#ff0000"/>
<rect x="95" y="451" width="1" height="28" fill="#008000"/>
<rect x="99" y="451" width="1" height="28" fill="#008000"/>
<rect x="103" y="451" width="1" height="28" fill="#ff0000"/>
<rect x="107" y="451" width="1" height="28" fill="#ff0000"/>
<rect x="111" y="451" width="1" height="28" fill="#ff0000"/>
<rect x="115" y="451" width="1" height="28" fill="#008000"/>
<rect x="119" y="451" width="1" height="28" fill="#008000"/>
<rect x="123" y="451" width="1" height="28" fill="#ff0000"/>
<rect x="127" y="451" width="1" height="28" fill="#008000"/>
<rect x="131" y="451" width="1" height="28" fill="#ff0000"/>
<rect x="135" y="451" width="1" height="28" fill="#008000"/>
<rect x="139" y="451" width="1" height="28" fill="#ff0000"/>
<rect x="143" y="451" width="1" height="28" fill="#008000"/>
<rect x="147" y="451" width="1" height="28" fill="#008000"/>
<rect x="151" y="451" width="1" height="28" fill="#ff0000"/>
<rect x="155" y="451" width="1" height="28" fill="#008000"/>
<rect x="159" y="451" width="1" height="28" fill="#ff0000"/>
<rect x="163" y="451" width="1" height="28" fill="#008000"/>
<rect x="167" y="451" width="1" height="28" fill="#ff0000"/>
<rect x="171" y="451" width="1" height="28" fill="#008000"/>
<rect x="175" y="451" width="1" height="28" fill="#ff0000"/>
<rect x="179" y="451" width="1" height="28" fill="#008000"/>
<rect x="183" y="451" width="1" height="28" fill="#008000"/>
<rect x="187" y="451" width="1" height="28" fill="#ff0000"/>
<rect x="191" y="451" width="1" height="28" fill="#ff0000"/>
<rect x="195" y="451" width="1" height="28" fill="#ff0000"/>
<rect x="199" y="451" width="1" height="28" fill="#008000"/>
<rect x="203" y="451" width="1" height="28" fill="#008000"/>
<rect x="207" y="451" width="1" height="28" fill="#008000"/>
<rect x="211" y="451" width="1" height="28" fill="#ff0000"/>
<rect x="215" y="451" width="1" height="28" fill="#008000"/>
<rect x="219" y="451" width="1" height="28" fill="#ff0000"/>
<rect x="223" y="451" width="1" height="28" fill="#008000"/>
<rect x="227" y="451" width="1" height="28" fill="#ff0000"/>
<rect x="231" y="451" width="1" height="28" fill="#008000"/>
<rect x="235" y="451" width="1" height="28" fill="#ff0000"/>
<rect x="239" y="451" width="1" height="28" fill="#008000"/>
<rect x="243" y="451" width="1" height="28" fill="#008000"/>
<rect x="247" y="451" width="1" height="28" fill="#ff0000"/>
<rect x="251" y="451" width="1" height="28" fill="#ff0000"/>
<rect x="255" y="451" width="1" height="28" fill="#008000"/>
<rect x="259" y="451" width="1" height="28" fill="#008000"/>
<rect x="263" y="451" width="1" height="28" fill="#ff0000"/>
<rect x="267" y="451" width="1" height="28" fill="#008000"/>
<rect x="271" y="452" width="1" height="27" fill="#ff0000"/>
<rect x="275" y="451" width="1" height="28" fill="#008000"/>
<rect x="279" y="451" width="1" height="28" fill="#008000"/>
<rect x="283" y="451" width="1" height="28" fill="#ff0000"/>
<rect x="287" y="451" width="1" height="28" fill="#ff0000"/>
<rect x="291" y="451" width="1" height="28" fill="#008000"/>
<rect x="295" y="451" width="1" height="28" fill="#008000"/>
<rect x="299" y="451" width="1" height="28" fill="#ff0000"/>
<rect x="303" y="451" width="1" height="28" fill="#ff0000"/>
<rect x="307" y="451" width="1" height="28" fill="#008000"/>
<rect x="311" y="451" width="1" height="28" fill="#ff0000"/>
<rect x="315" y="451" width="1" height="28" fill="#ff0000"/>
<rect x="319" y="451" width="1" height="28" fill="#ff0000"/>
<rect x="323" y="451" width="1" height="28" fill="#008000"/>
<rect x="327" y="451" width="1" height="28" fill="#008000"/>
<rect x="331" y="451" width="1" height="28" fill="#ff0000"/>
<rect x="335" y="451" width="1" height="28" fill="#008000"/>
<rect x="339" y="451" width="1" height="28" fill="#ff0000"/>
<rect x="343" y="451" width="1" height="28" fill="#008000"/>
<rect x="347" y="451" width="1" height="28" fill="#008000"/>
<rect x="351" y="451" width="1" height="28" fill="#008000"/>
<rect x="355" y="451" width="1" height="28" fill="#008000"/>
<rect x="359" y="451" width="1" height="28" fill="#ff0000"/>
<rect x="363" y="451" width="1" height="28" fill="#008000"/>
<rect x="367" y="451" width="1" height="28" fill="#008000"/>
<rect x="371" y="451" width="1" height="28" fill="#ff0000"/>
<rect x="375" y="451" width="1" height="28" fill="#008000"/>
<rect x="379" y="451" width="1" height="28" fill="#ff0000"/>
<rect x="383" y="451" width="1" height="28" fill="#ff0000"/>
<rect x="387" y="451" width="1" height="28" fill="#008000"/>
<rect x="391" y="451" width="1" height="28" fill="#ff0000"/>
<rect x="395" y="451" width="1" height="28" fill="#008000"/>
<rect x="399" y="451" width="1" height="28" fill="#ff0000"/>
<rect x="403" y="451" width="1" height="28" fill="#ff0000"/>
<rect x="407" y="451" width="1" height="28" fill="#008000"/>
<rect x="411" y="451" width="1" height="28" fill="#ff0000"/>
<rect x="415" y="451" width="1" height="28" fill="#008000"/>
<rect x="419" y="451" width="1" height="28" fill="#008000"/>
<rect x="423" y="451" width="1" height="28" fill="#008000"/>
<rect x="427" y="451" width="1" height="28" fill="#ff0000"/>
<rect x="431" y="451" width="1" height="28" fill="#ff0000"/>
<rect x="435" y="451" width="1" height="28" fill="#008000"/>
<rect x="439" y="451" width="1" height="28" fill="#ff0000"/>
<rect x="443" y="451" width="1" height="28" fill="#008000"/>
<rect x="447" y="451" width="1" height="28" fill="#008000"/>
<rect x="451" y="451" width="1" height="28" fill="#008000"/>
<rect x="455" y="451" width="1" height="28" fill="#ff0000"/>
<rect x="459" y="451" width="1" height="28" fill="#008000"/>
<rect x="463" y="451" width="1" height="28" fill="#ff0000"/>
<rect x="467" y="451" width="1" height="28" fill="#008000"/>
<rect x="471" y="451" width="1" height="28" fill="#ff0000"/>
<rect x="475" y="451" width="1" height="28" fill="#008000"/>
<rect x="479" y="451" width="1" height="28" fill="#008000"/>
<rect x="483" y="451" width="1" height="28" fill="#008000"/>
<rect x="487" y="451" width="1" height="28" fill="#ff0000"/>
<rect x="491" y="451" width="1" height="28" fill="#008000"/>
<rect x="495" y="451" width="1" height="28" fill="#ff0000"/>
<rect x="499" y="451" width="1" height="28" fill="#008000"/>
<rect x="503" y="451" width="1" height="28" fill="#008000"/>
<rect x="507" y="451" width="1" height="28" fill="#ff0000"/>
<rect x="511" y="451" width="1" height="28" fill="#ff0000"/>
<rect x="515" y="451" width="1" height="28" fill="#ff0000"/>
<rect x="519" y="451" width="1" height="28" fill="#008000"/>
<rect x="523" y="451" width="1" height="28" fill="#008000"/>
<rect x="527" y="451" width="1" height="28" fill="#ff0000"/>
<rect x="531" y="451" width="1" height="28" fill="#ff0000"/>
<rect x="535" y="451" width="1" height="28" fill="#ff0000"/>
<rect x="539" y="451" width="1" height="28" fill="#008000"/>
<rect x="543" y="451" width="1" height="28" fill="#ff0000"/>
<rect x="547" y="451" width="1" height="28" fill="#008000"/>
<rect x="551" y="451" width="1" height="28" fill="#ff0000"/>
<rect x="555" y="451" width="1" height="28" fill="#008000"/>
<rect x="559" y="451" width="1" height="28" fill="#008000"/>
<rect x="563" y="451" width="1" height="28" fill="#008000"/>
<rect x="567" y="451" width="1" height="28" fill="#ff0000"/>
<rect x="571" y="451" width="1" height="28" fill="#008000"/>
<rect x="575" y="451" width="1" height="28" fill="#ff0000"/>
<rect x="579" y="451" width="1" height="28" fill="#008000"/>
<rect x="583" y="451" width="1" height="28" fill="#ff0000"/>
<rect x="587" y="451" width="1" height="28" fill="#008000"/>
<rect x="591" y="451" width="1" height="28" fill="#008000"/>
<rect x="595" y="451" width="1" height="28" fill="#008000"/>
<rect x="599" y="451" width="1" height="28" fill="#008000"/>
<rect x="603" y="451" width="1" height="28" fill="#ff0000"/>
<rect x="607" y="451" width="1" height="28" fill="#ff0000"/>
<rect x="611" y="451" width="1" height="28" fill="#008000"/>
<rect x="615" y="451" width="1" height="28" fill="#ff0000"/>
<rect x="619" y="451" width="1" height="28" fill="#008000"/>
<rect x="623" y="451" width="1" height="28" fill="#008000"/>
<rect x="627" y="476" width="1" height="3" fill="#ff0000"/>
</g>
<g shape-rendering="crispEdges" fill="none" stroke="#000" stroke-width="1">
<path d="M2.5 2.5 H654.5 M2.5 298.5 H654.5 M2.5 2 V299 M654.5 2 V299"/>
<path d="M2.5 300.5 H654.5 M2.5 341.5 H654.5 M2.5 300 V342 M654.5 300 V342"/>
<path d="M2.5 343.5 H654.5 M2.5 377.5 H654.5 M2.5 343 V378 M654.5 343 V378"/>
<path d="M2.5 379.5 H654.5 M2.5 413.5 H654.5 M2.5 379 V414 M654.5 379 V414"/>
<path d="M2.5 415.5 H654.5 M2.5 445.5 H654.5 M2.5 415 V446 M654.5 415 V446"/>
<path d="M2.5 447.5 H654.5 M2.5 479.5 H654.5 M2.5 447 V480 M654.5 447 V480"/>
</g>
<g shape-rendering="crispEdges" fill="#ff0000">
<rect x="654" y="9" width="3" height="3"/>
<rect x="654" y="66" width="3" height="3"/>
<rect x="654" y="95" width="3" height="3"/>
<rect x="654" y="124" width="3" height="3"/>
<rect x="654" y="153" width="3" height="3"/>
<rect x="654" y="211" width="3" height="3"/>
</g>
<g shape-rendering="crispEdges" fill="#000">
<rect x="655" y="31" width="3" height="1"/>
<rect x="655" y="130" width="3" height="1"/>
<rect x="655" y="163" width="3" height="1"/>
<rect x="655" y="196" width="3" height="1"/>
<rect x="655" y="229" width="3" height="1"/>
<rect x="655" y="262" width="3" height="1"/>
<rect x="655" y="295" width="3" height="1"/>
<rect x="655" y="390" width="3" height="1"/>
<rect x="655" y="403" width="3" height="1"/>
<rect x="3" y="480" width="1" height="4"/>
<rect x="67" y="480" width="1" height="4"/>
<rect x="131" y="480" width="1" height="4"/>
<rect x="195" y="480" width="1" height="4"/>
<rect x="259" y="480" width="1" height="4"/>
<rect x="323" y="480" width="1" height="4"/>
<rect x="387" y="480" width="1" height="4"/>
<rect x="451" y="480" width="1" height="4"/>
<rect x="515" y="480" width="1" height="4"/>
<rect x="579" y="480" width="1" height="4"/>
</g>
<text x="7.5" y="14.8" font-family="Liberation Sans, sans-serif" font-size="10px" fill="#000" text-anchor="start" textLength="63" lengthAdjust="spacingAndGlyphs">WIG20_T,Daily</text>
<text x="78.5" y="14.8" font-family="Liberation Sans, sans-serif" font-size="10px" fill="#000" text-anchor="start" textLength="140.5" lengthAdjust="spacingAndGlyphs">3672.41 3674.29 3651.94 3654.99</text>
<text x="660" y="35" font-family="Liberation Sans, sans-serif" font-size="10px" fill="#000" text-anchor="start" textLength="33" lengthAdjust="spacingAndGlyphs">3627.00</text>
<text x="660" y="134.2" font-family="Liberation Sans, sans-serif" font-size="10px" fill="#000" text-anchor="start" textLength="33" lengthAdjust="spacingAndGlyphs">3283.80</text>
<text x="660" y="167.6" font-family="Liberation Sans, sans-serif" font-size="10px" fill="#000" text-anchor="start" textLength="33" lengthAdjust="spacingAndGlyphs">3168.00</text>
<text x="660" y="200.5" font-family="Liberation Sans, sans-serif" font-size="10px" fill="#000" text-anchor="start" textLength="33" lengthAdjust="spacingAndGlyphs">3055.80</text>
<text x="660" y="233.5" font-family="Liberation Sans, sans-serif" font-size="10px" fill="#000" text-anchor="start" textLength="33" lengthAdjust="spacingAndGlyphs">2940.20</text>
<text x="660" y="266" font-family="Liberation Sans, sans-serif" font-size="10px" fill="#000" text-anchor="start" textLength="33" lengthAdjust="spacingAndGlyphs">2824.60</text>
<text x="660" y="299" font-family="Liberation Sans, sans-serif" font-size="10px" fill="#000" text-anchor="start" textLength="33" lengthAdjust="spacingAndGlyphs">2712.40</text>
<g shape-rendering="crispEdges">
<rect x="656" y="4" width="41" height="11" fill="#ff0000"/>
<rect x="656" y="61" width="41" height="11" fill="#ff0000"/>
<rect x="656" y="90" width="41" height="11" fill="#ff0000"/>
<rect x="656" y="119" width="41" height="11" fill="#ff0000"/>
<rect x="656" y="148" width="41" height="11" fill="#ff0000"/>
<rect x="656" y="206" width="41" height="11" fill="#ff0000"/>
<rect x="656" y="18" width="41" height="11" fill="#000"/>
</g>
<text x="660" y="12.8" font-family="Liberation Sans, sans-serif" font-size="10px" fill="#fff" text-anchor="start" textLength="33" lengthAdjust="spacingAndGlyphs">3700.00</text>
<text x="660" y="69.8" font-family="Liberation Sans, sans-serif" font-size="10px" fill="#fff" text-anchor="start" textLength="33" lengthAdjust="spacingAndGlyphs">3500.00</text>
<text x="660" y="98.8" font-family="Liberation Sans, sans-serif" font-size="10px" fill="#fff" text-anchor="start" textLength="33" lengthAdjust="spacingAndGlyphs">3400.00</text>
<text x="660" y="127.8" font-family="Liberation Sans, sans-serif" font-size="10px" fill="#fff" text-anchor="start" textLength="33" lengthAdjust="spacingAndGlyphs">3300.00</text>
<text x="660" y="156.8" font-family="Liberation Sans, sans-serif" font-size="10px" fill="#fff" text-anchor="start" textLength="33" lengthAdjust="spacingAndGlyphs">3200.00</text>
<text x="660" y="214.8" font-family="Liberation Sans, sans-serif" font-size="10px" fill="#fff" text-anchor="start" textLength="33" lengthAdjust="spacingAndGlyphs">3000.00</text>
<text x="660" y="26.8" font-family="Liberation Sans, sans-serif" font-size="10px" fill="#fff" text-anchor="start" textLength="33" lengthAdjust="spacingAndGlyphs">3654.99</text>
<text x="659" y="311.5" font-family="Liberation Sans, sans-serif" font-size="10px" fill="#000" text-anchor="start" textLength="32" lengthAdjust="spacingAndGlyphs">114.155</text>
<rect x="656" y="320" width="7" height="11" fill="#000" shape-rendering="crispEdges"/>
<text x="657.5" y="329.5" font-family="Liberation Sans, sans-serif" font-size="10px" fill="#fff" text-anchor="start" textLength="5" lengthAdjust="spacingAndGlyphs">0</text>
<text x="663" y="329.5" font-family="Liberation Sans, sans-serif" font-size="10px" fill="#000" text-anchor="start" textLength="12.5" lengthAdjust="spacingAndGlyphs">.00</text>
<text x="658" y="338.9" font-family="Liberation Sans, sans-serif" font-size="10px" fill="#000" text-anchor="start" textLength="35" lengthAdjust="spacingAndGlyphs">-78.394</text>
<text x="658" y="354.6" font-family="Liberation Sans, sans-serif" font-size="10px" fill="#000" text-anchor="start" textLength="33" lengthAdjust="spacingAndGlyphs">82.8868</text>
<text x="658" y="374.9" font-family="Liberation Sans, sans-serif" font-size="10px" fill="#000" text-anchor="start" textLength="33" lengthAdjust="spacingAndGlyphs">34.7618</text>
<text x="658" y="389.8" font-family="Liberation Sans, sans-serif" font-size="10px" fill="#000" text-anchor="start" textLength="15" lengthAdjust="spacingAndGlyphs">100</text>
<text x="658" y="394.5" font-family="Liberation Sans, sans-serif" font-size="10px" fill="#000" text-anchor="start" textLength="10" lengthAdjust="spacingAndGlyphs">70</text>
<text x="658" y="406.5" font-family="Liberation Sans, sans-serif" font-size="10px" fill="#000" text-anchor="start" textLength="10" lengthAdjust="spacingAndGlyphs">30</text>
<text x="658" y="409.5" font-family="Liberation Sans, sans-serif" font-size="10px" fill="#000" text-anchor="start" textLength="5" lengthAdjust="spacingAndGlyphs">0</text>
<text x="658" y="426.4" font-family="Liberation Sans, sans-serif" font-size="10px" fill="#000" text-anchor="start" textLength="10" lengthAdjust="spacingAndGlyphs">62</text>
<text x="658" y="442.4" font-family="Liberation Sans, sans-serif" font-size="10px" fill="#000" text-anchor="start" textLength="5" lengthAdjust="spacingAndGlyphs">2</text>
<text x="658" y="458.5" font-family="Liberation Sans, sans-serif" font-size="10px" fill="#000" text-anchor="start" textLength="20" lengthAdjust="spacingAndGlyphs">1969</text>
<text x="658" y="476" font-family="Liberation Sans, sans-serif" font-size="10px" fill="#000" text-anchor="start" textLength="5" lengthAdjust="spacingAndGlyphs">0</text>
<text x="7.6" y="312.8" font-family="Liberation Sans, sans-serif" font-size="10px" fill="#000" text-anchor="start" textLength="60.4" lengthAdjust="spacingAndGlyphs">MACD(3,10,5)</text>
<text x="71.6" y="312.8" font-family="Liberation Sans, sans-serif" font-size="10px" fill="#000" text-anchor="start" textLength="27" lengthAdjust="spacingAndGlyphs">89.393</text>
<text x="102.4" y="312.8" font-family="Liberation Sans, sans-serif" font-size="10px" fill="#000" text-anchor="start" textLength="27.6" lengthAdjust="spacingAndGlyphs">99.469</text>
<text x="7.6" y="355.9" font-family="Liberation Sans, sans-serif" font-size="10px" fill="#000" text-anchor="start" textLength="34.4" lengthAdjust="spacingAndGlyphs">ATR(14)</text>
<text x="45.6" y="355.9" font-family="Liberation Sans, sans-serif" font-size="10px" fill="#000" text-anchor="start" textLength="32" lengthAdjust="spacingAndGlyphs">62.3493</text>
<text x="7.6" y="391.9" font-family="Liberation Sans, sans-serif" font-size="10px" fill="#000" text-anchor="start" textLength="30.8" lengthAdjust="spacingAndGlyphs">RSI(14)</text>
<text x="41.6" y="391.9" font-family="Liberation Sans, sans-serif" font-size="10px" fill="#000" text-anchor="start" textLength="33.4" lengthAdjust="spacingAndGlyphs">72.7215</text>
<text x="7.5" y="427.8" font-family="Liberation Sans, sans-serif" font-size="10px" fill="#000" text-anchor="start" textLength="70" lengthAdjust="spacingAndGlyphs">ADX(14) 41.0339</text>
<text x="82.3" y="427.8" font-family="Liberation Sans, sans-serif" font-size="10px" fill="#000" text-anchor="start" textLength="52" lengthAdjust="spacingAndGlyphs">+DI:36.4360</text>
<text x="138.6" y="427.8" font-family="Liberation Sans, sans-serif" font-size="10px" fill="#000" text-anchor="start" textLength="43.7" lengthAdjust="spacingAndGlyphs">-DI:7.1763</text>
<text x="7.3" y="459.6" font-family="Liberation Sans, sans-serif" font-size="10px" fill="#000" text-anchor="start" textLength="53.5" lengthAdjust="spacingAndGlyphs">Volumes 210</text>
<text x="3.4" y="491.8" font-family="Liberation Sans, sans-serif" font-size="10px" fill="#000" text-anchor="start" textLength="51.5" lengthAdjust="spacingAndGlyphs">28 Aug 2025</text>
<text x="67.4" y="491.8" font-family="Liberation Sans, sans-serif" font-size="10px" fill="#000" text-anchor="start" textLength="50.6" lengthAdjust="spacingAndGlyphs">19 Sep 2025</text>
<text x="131.4" y="491.8" font-family="Liberation Sans, sans-serif" font-size="10px" fill="#000" text-anchor="start" textLength="49" lengthAdjust="spacingAndGlyphs">13 Oct 2025</text>
<text x="195.4" y="491.8" font-family="Liberation Sans, sans-serif" font-size="10px" fill="#000" text-anchor="start" textLength="47.1" lengthAdjust="spacingAndGlyphs">4 Nov 2025</text>
<text x="259.4" y="491.8" font-family="Liberation Sans, sans-serif" font-size="10px" fill="#000" text-anchor="start" textLength="52.8" lengthAdjust="spacingAndGlyphs">27 Nov 2025</text>
<text x="323.4" y="491.8" font-family="Liberation Sans, sans-serif" font-size="10px" fill="#000" text-anchor="start" textLength="50.2" lengthAdjust="spacingAndGlyphs">19 Dec 2025</text>
<text x="387.4" y="491.8" font-family="Liberation Sans, sans-serif" font-size="10px" fill="#000" text-anchor="start" textLength="50.1" lengthAdjust="spacingAndGlyphs">20 Jan 2026</text>
<text x="451.4" y="491.8" font-family="Liberation Sans, sans-serif" font-size="10px" fill="#000" text-anchor="start" textLength="49.7" lengthAdjust="spacingAndGlyphs">11 Feb 2026</text>
<text x="515.4" y="491.8" font-family="Liberation Sans, sans-serif" font-size="10px" fill="#000" text-anchor="start" textLength="45.7" lengthAdjust="spacingAndGlyphs">5 Mar 2026</text>
<text x="579.4" y="491.8" font-family="Liberation Sans, sans-serif" font-size="10px" fill="#000" text-anchor="start" textLength="50.3" lengthAdjust="spacingAndGlyphs">27 Mar 2026</text>
</svg>
</body></html>
